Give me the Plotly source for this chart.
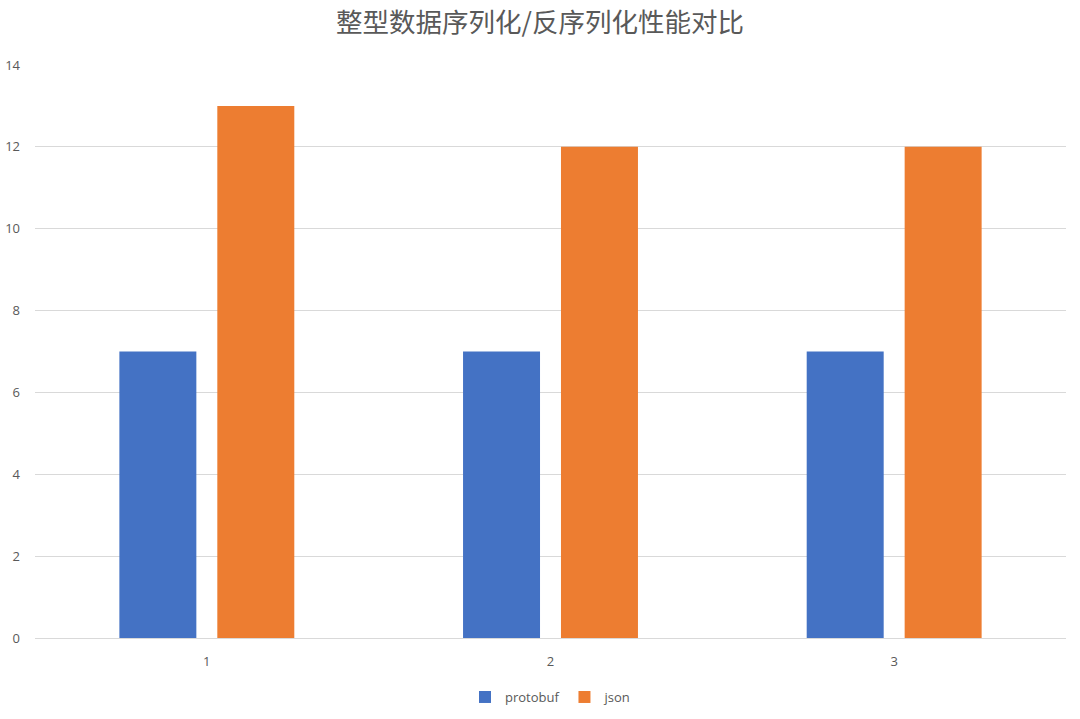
import plotly.graph_objects as go

categories = ["1", "2", "3"]
protobuf = [7, 7, 7]
json_vals = [13, 12, 12]
y_ticks = [0, 2, 4, 6, 8, 10, 12, 14]

fig = go.Figure()
fig.add_trace(go.Bar(x=categories, y=protobuf, name="protobuf", marker_color="#4472C4", marker_line_width=0))
fig.add_trace(go.Bar(x=categories, y=json_vals, name="json", marker_color="#ED7D31", marker_line_width=0))

fig.update_layout(
    width=1080, height=719,
    margin=dict(l=35, r=14, t=65, b=81, autoexpand=False),
    paper_bgcolor="white", plot_bgcolor="white",
    barmode="group", bargap=0.43, bargroupgap=0.214,
    font=dict(family="Open Sans, sans-serif", color="#595959", size=12),
    title=dict(text="整型数据序列化/反序列化性能对比", x=0.5, xanchor="center", y=0.968, yanchor="middle",
               font=dict(size=26.5, color="#595959", family="Noto Sans CJK SC, sans-serif")),
    legend=dict(orientation="h", x=0.5, xanchor="center", y=-0.103, yanchor="middle",
                font=dict(size=13, color="#595959"), itemwidth=30, traceorder="normal"),
    xaxis=dict(type="category", showgrid=False, showline=False, ticks="", automargin=False,
               ticklabelstandoff=14, tickfont=dict(size=13)),
    yaxis=dict(range=[0, 14], tickvals=y_ticks, showgrid=True, gridcolor="#D9D9D9", gridwidth=1,
               zeroline=True, zerolinecolor="#D9D9D9", zerolinewidth=1, ticks="", automargin=False,
               ticklabelstandoff=14, tickfont=dict(size=13)),
)

fig.write_html("out.html")
